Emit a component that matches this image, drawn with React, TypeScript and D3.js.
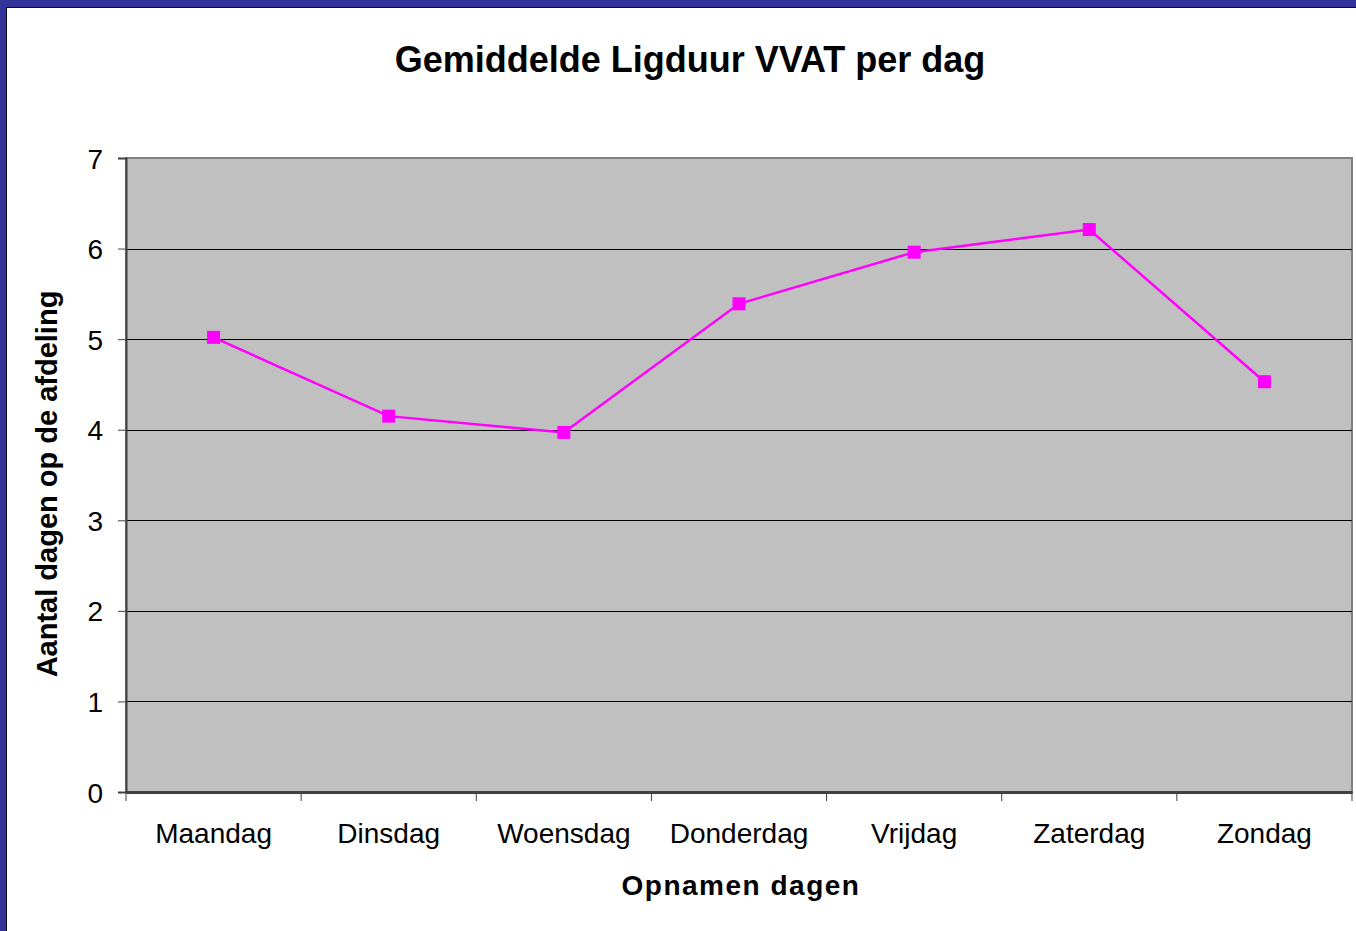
import React, { useEffect, useRef } from 'react';
import * as d3 from 'd3';

const days = ['Maandag', 'Dinsdag', 'Woensdag', 'Donderdag', 'Vrijdag', 'Zaterdag', 'Zondag'];
const avgDays = [5.02, 4.15, 3.97, 5.39, 5.96, 6.21, 4.53];
const yTicks = [0, 1, 2, 3, 4, 5, 6, 7];

const W = 1356;
const H = 931;
const FONT = '"Liberation Sans", Arial, sans-serif';

const App = () => {
    const svgRef = useRef<SVGSVGElement>(null);

    useEffect(() => {
        const svg = d3.select(svgRef.current);
        svg.selectAll('*').remove();

        const left = 126, right = 1352, top = 158, bottom = 792;

        // frame
        svg.append('rect').attr('x', 0).attr('y', 0).attr('width', W).attr('height', H).attr('fill', '#333399');
        svg.append('rect').attr('x', 6).attr('y', 7).attr('width', W).attr('height', H).attr('fill', '#111');
        svg.append('rect').attr('x', 7).attr('y', 8).attr('width', W).attr('height', H).attr('fill', '#fff');

        const x = d3.scaleBand().domain(days).range([left, right]);
        const y = d3.scaleLinear().domain([0, 7]).range([bottom, top]);

        svg.append('rect')
            .attr('x', left).attr('y', top)
            .attr('width', right - left).attr('height', bottom - top)
            .attr('fill', '#c0c0c0')
            .attr('stroke', '#808080').attr('stroke-width', 2);

        // gridlines
        svg.append('g').selectAll('line')
            .data(yTicks.slice(1, -1))
            .enter().append('line')
            .attr('x1', left).attr('x2', right)
            .attr('y1', d => Math.round(y(d)) + 0.5).attr('y2', d => Math.round(y(d)) + 0.5)
            .attr('stroke', '#000').attr('stroke-width', 1);

        // y axis
        const yAxis = svg.append('g')
            .attr('transform', `translate(${left},0)`)
            .call(d3.axisLeft(y).tickValues(yTicks).tickSize(8).tickPadding(15).tickFormat(d3.format('d')));
        yAxis.select('.domain').attr('stroke', '#404040').attr('stroke-width', 2);
        yAxis.selectAll('.tick line').attr('stroke', '#404040');
        yAxis.selectAll('text').attr('font-family', FONT).attr('font-size', 28).attr('fill', '#000').attr('dy', '0.36em');

        // x axis
        const xAxis = svg.append('g')
            .attr('transform', `translate(0,${bottom})`)
            .call(d3.axisBottom(x).tickSize(0).tickPadding(31));
        xAxis.select('.domain').attr('stroke', '#404040').attr('stroke-width', 3);
        xAxis.selectAll('text').attr('font-family', FONT).attr('font-size', 28).attr('fill', '#000');
        svg.append('g').selectAll('line')
            .data(days.map(d => x(d) as number).concat([right]))
            .enter().append('line')
            .attr('x1', d => d).attr('x2', d => d)
            .attr('y1', bottom).attr('y2', bottom + 9)
            .attr('stroke', '#404040').attr('stroke-width', 1);

        // series
        const cx = (d: string) => (x(d) as number) + x.bandwidth() / 2;
        const line = d3.line<number>()
            .x((_, i) => cx(days[i]))
            .y(d => y(d));
        svg.append('path')
            .datum(avgDays)
            .attr('d', line)
            .attr('fill', 'none')
            .attr('stroke', '#ff00ff')
            .attr('stroke-width', 2.5);
        svg.append('g').selectAll('rect')
            .data(avgDays)
            .enter().append('rect')
            .attr('x', (_, i) => cx(days[i]) - 6.5)
            .attr('y', d => y(d) - 6.5)
            .attr('width', 13).attr('height', 13)
            .attr('fill', '#ff00ff');

        // titles
        svg.append('text')
            .attr('x', 690).attr('y', 72)
            .attr('text-anchor', 'middle')
            .attr('font-family', FONT).attr('font-size', 36).attr('font-weight', 'bold')
            .text('Gemiddelde Ligduur VVAT per dag');
        svg.append('text')
            .attr('x', 741).attr('y', 895)
            .attr('text-anchor', 'middle')
            .attr('font-family', FONT).attr('font-size', 28).attr('font-weight', 'bold')
            .attr('letter-spacing', 1.5)
            .text('Opnamen dagen');
        svg.append('text')
            .attr('transform', `translate(57,${(top + bottom) / 2 + 9}) rotate(-90)`)
            .attr('text-anchor', 'middle')
            .attr('font-family', FONT).attr('font-size', 29).attr('font-weight', 'bold')
            .text('Aantal dagen op de afdeling');
    }, []);

    return (
        <svg ref={svgRef} width={W} height={H}
            style={{ position: 'absolute', left: 0, top: 0, display: 'block' }}></svg>
    );
};

export default App;
